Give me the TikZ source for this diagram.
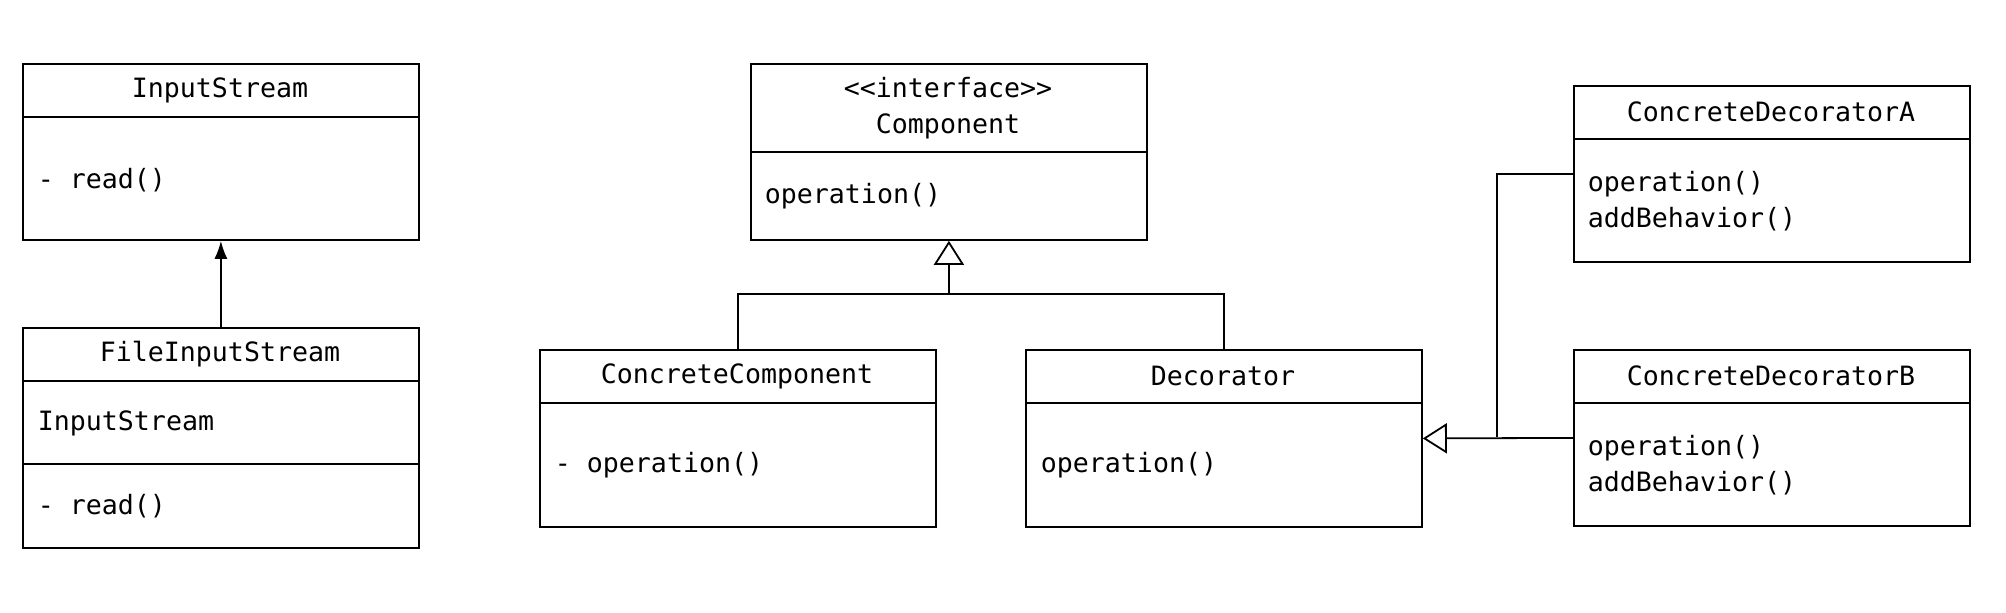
\documentclass[tikz,border=0pt]{standalone}
\usepackage{fontspec}
\setmainfont{DejaVu Sans Mono}
\usetikzlibrary{arrows.meta}
\begin{document}
\begin{tikzpicture}[x=0.5pt,y=-0.5pt,line width=0.9pt,
  box/.style={draw,rectangle,minimum width=198pt,minimum height=88pt,anchor=north west,inner sep=0pt},
  txt/.style={inner sep=0pt,font=\fontsize{13.3pt}{18pt}\selectfont,align=center},
  ltxt/.style={txt,anchor=west,align=left},
  hollow/.style={-{Triangle[open,length=12pt,width=15pt,fill=white]}},
  filled/.style={-{Latex[length=9pt,width=6.5pt]}}]
\useasboundingbox (0,0) rectangle (2006,612);
% InputStream
\node[box] (is) at (22,63) {};
\draw (22,117) -- (419,117);
\node[txt] (ist) at (220,90) {InputStream};
\node[ltxt] (ism) at (37,180) {- read()};
% FileInputStream
\node[box,minimum height=110pt] (fis) at (22,327) {};
\draw (22,381) -- (419,381);
\draw (22,464) -- (419,464);
\node[txt] (fist) at (220,354) {FileInputStream};
\node[ltxt] (fisa) at (37,423) {InputStream};
\node[ltxt] (fism) at (37,506) {- read()};
\draw[filled] (fis.north) -- (is.south);
% Component
\node[box] (comp) at (750,63) {};
\draw (750,152) -- (1146,152);
\node[txt] (compt) at (948,108) {{<}{<}interface{>}{>}\\Component};
\node[ltxt] (compm) at (764,196) {operation()};
% ConcreteComponent
\node[box,minimum height=88.5pt] (cc) at (539,349) {};
\draw (539,403) -- (935,403);
\node[txt] (cct) at (737,376) {ConcreteComponent};
\node[ltxt] (ccm) at (554,465) {- operation()};
% Decorator
\node[box,minimum height=88.5pt] (dec) at (1025,349) {};
\draw (1025,403) -- (1421,403);
\node[txt] (dect) at (1223,376) {Decorator};
\node[ltxt] (decm) at (1040,465) {operation()};
% ConcreteDecoratorA
\node[box] (cda) at (1573,85) {};
\draw (1573,139) -- (1969,139);
\node[txt] (cdat) at (1771,112) {ConcreteDecoratorA};
\node[ltxt] (cdam) at (1587,201) {operation()\\addBehavior()};
% ConcreteDecoratorB
\node[box] (cdb) at (1573,349) {};
\draw (1573,403) -- (1969,403);
\node[txt] (cdbt) at (1771,376) {ConcreteDecoratorB};
\node[ltxt] (cdbm) at (1587,465) {operation()\\addBehavior()};
% connectors
\coordinate (j1) at (comp.south |- 0,294);
\draw (cc.north) |- (j1) -| (dec.north);
\draw[hollow] (j1) -- (comp.south);
\coordinate (j2) at (1497,437);
\draw (cda.west) -| (j2);
\draw[hollow] (cdb.west) -- (dec.east);
\end{tikzpicture}
\end{document}
